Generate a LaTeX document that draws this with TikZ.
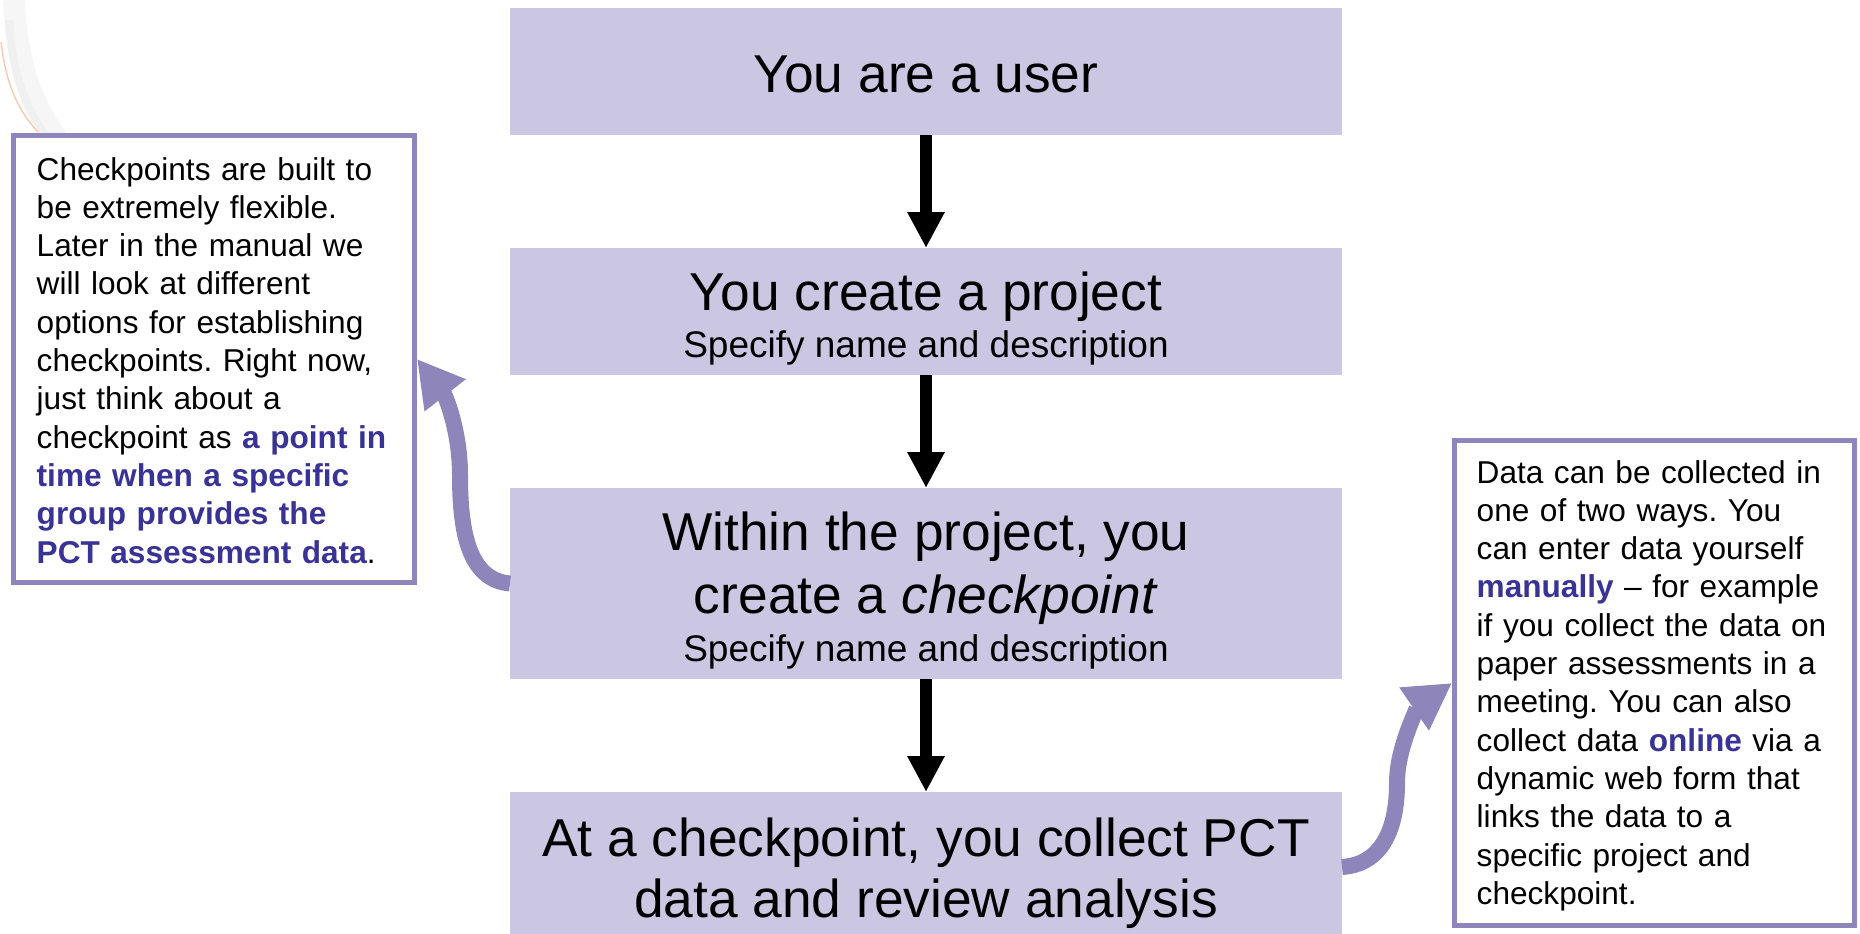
\documentclass[tikz,border=0pt]{standalone}
\usepackage{fontspec}
\setmainfont{Liberation Sans}
\usetikzlibrary{arrows.meta}
\definecolor{boxfill}{RGB}{203,199,227}
\definecolor{purp}{RGB}{142,134,186}
\definecolor{hilite}{RGB}{58,51,150}
\definecolor{swoosh}{RGB}{240,160,110}
\tikzset{
  stepbox/.style={fill=boxfill, draw=none, minimum width=832pt, inner sep=0pt, outer sep=0pt},
  sidebox/.style={draw=purp, line width=5pt, fill=white, inner sep=0pt},
  bigtxt/.style={anchor=base, inner sep=0pt, font=\fontsize{53.3}{61}\selectfont},
  smalltxt/.style={anchor=base, inner sep=0pt, font=\fontsize{37}{43}\selectfont},
  sidetxt/.style={anchor=base west, inner sep=0pt, text width=390pt, align=left,
                  font=\fontsize{31.6}{38.3}\selectfont\frenchspacing},
  downarrow/.style={draw=black, line width=12pt, -{Triangle[length=36pt,width=35pt]}},
  curvearrow/.style={draw=purp, line width=16pt, -{Triangle[length=46pt,width=49pt]}}
}
\newcommand{\hlt}[1]{\textbf{\color{hilite}#1}}
\begin{document}
\begin{tikzpicture}[x=1pt,y=-1pt]
\useasboundingbox (0,0) rectangle (1860,934);
% background swoosh (template decoration)
\draw[gray!7, line width=22pt] (14,0) .. controls (16,60) and (32,108) .. (62,145);
\draw[gray!12, line width=8pt] (9,20) .. controls (12,70) and (24,108) .. (48,138);
\draw[swoosh, line width=1.4pt, opacity=0.55] (1,42) .. controls (6,82) and (16,108) .. (38,132);

% main steps
\node[stepbox, minimum height=127pt] (b1) at (926,71.5) {};
\node[stepbox, minimum height=127pt] (b2) at (926,311.5) {};
\node[stepbox, minimum height=191pt] (b3) at (926,583.5) {};
\node[stepbox, minimum height=150pt] (b4) at (926,867) {};

\node[bigtxt] (t1) at (926,92.5) {You are a user};
\node[bigtxt] (t2a) at (926,310) {You create a project};
\node[smalltxt] (t2b) at (926,357.5) {Specify name and description};
\node[bigtxt] (t3a) at (926,550) {Within the project, you};
\node[bigtxt] (t3b) at (926,613) {create a \textit{checkpoint}};
\node[smalltxt] (t3c) at (926,661) {Specify name and description};
\node[bigtxt] (t4a) at (926,856) {At a checkpoint, you collect PCT};
\node[bigtxt] (t4b) at (926,917) {data and review analysis};

% side boxes
\node[sidebox, minimum width=401pt, minimum height=447pt] (lbox) at (214,359) {};
\node[sidebox, minimum width=400pt, minimum height=485pt] (rbox) at (1654.5,683) {};

\node[sidetxt] (ltxt) at (36.5,180) {Checkpoints are built to\\
be extremely flexible.\\
Later in the manual we\\
will look at different\\
options for establishing\\
checkpoints. Right now,\\
just think about a\\
checkpoint as \hlt{a point in}\\
\hlt{time when a specific}\\
\hlt{group provides the}\\
\hlt{PCT assessment data}.};

\node[sidetxt] (rtxt) at (1476.5,483) {Data can be collected in\\
one of two ways. You\\
can enter data yourself\\
\hlt{manually} -- for example\\
if you collect the data on\\
paper assessments in a\\
meeting. You can also\\
collect data \hlt{online} via a\\
dynamic web form that\\
links the data to a\\
specific project and\\
checkpoint.};

% connectors
\draw[downarrow] (b1.south) -- (b2.north);
\draw[downarrow] (b2.south) -- (b3.north);
\draw[downarrow] (b3.south) -- (b4.north);

\draw[curvearrow] (b3.west) .. controls (468,580) and (460,530) .. (460,475)
   .. controls (460,430) and (445,395) .. (lbox.east);
\draw[curvearrow] (b4.east) .. controls (1386,864) and (1397,822) .. (1397,783)
   .. controls (1397,745) and (1420,705) .. (rbox.west);
\end{tikzpicture}
\end{document}
